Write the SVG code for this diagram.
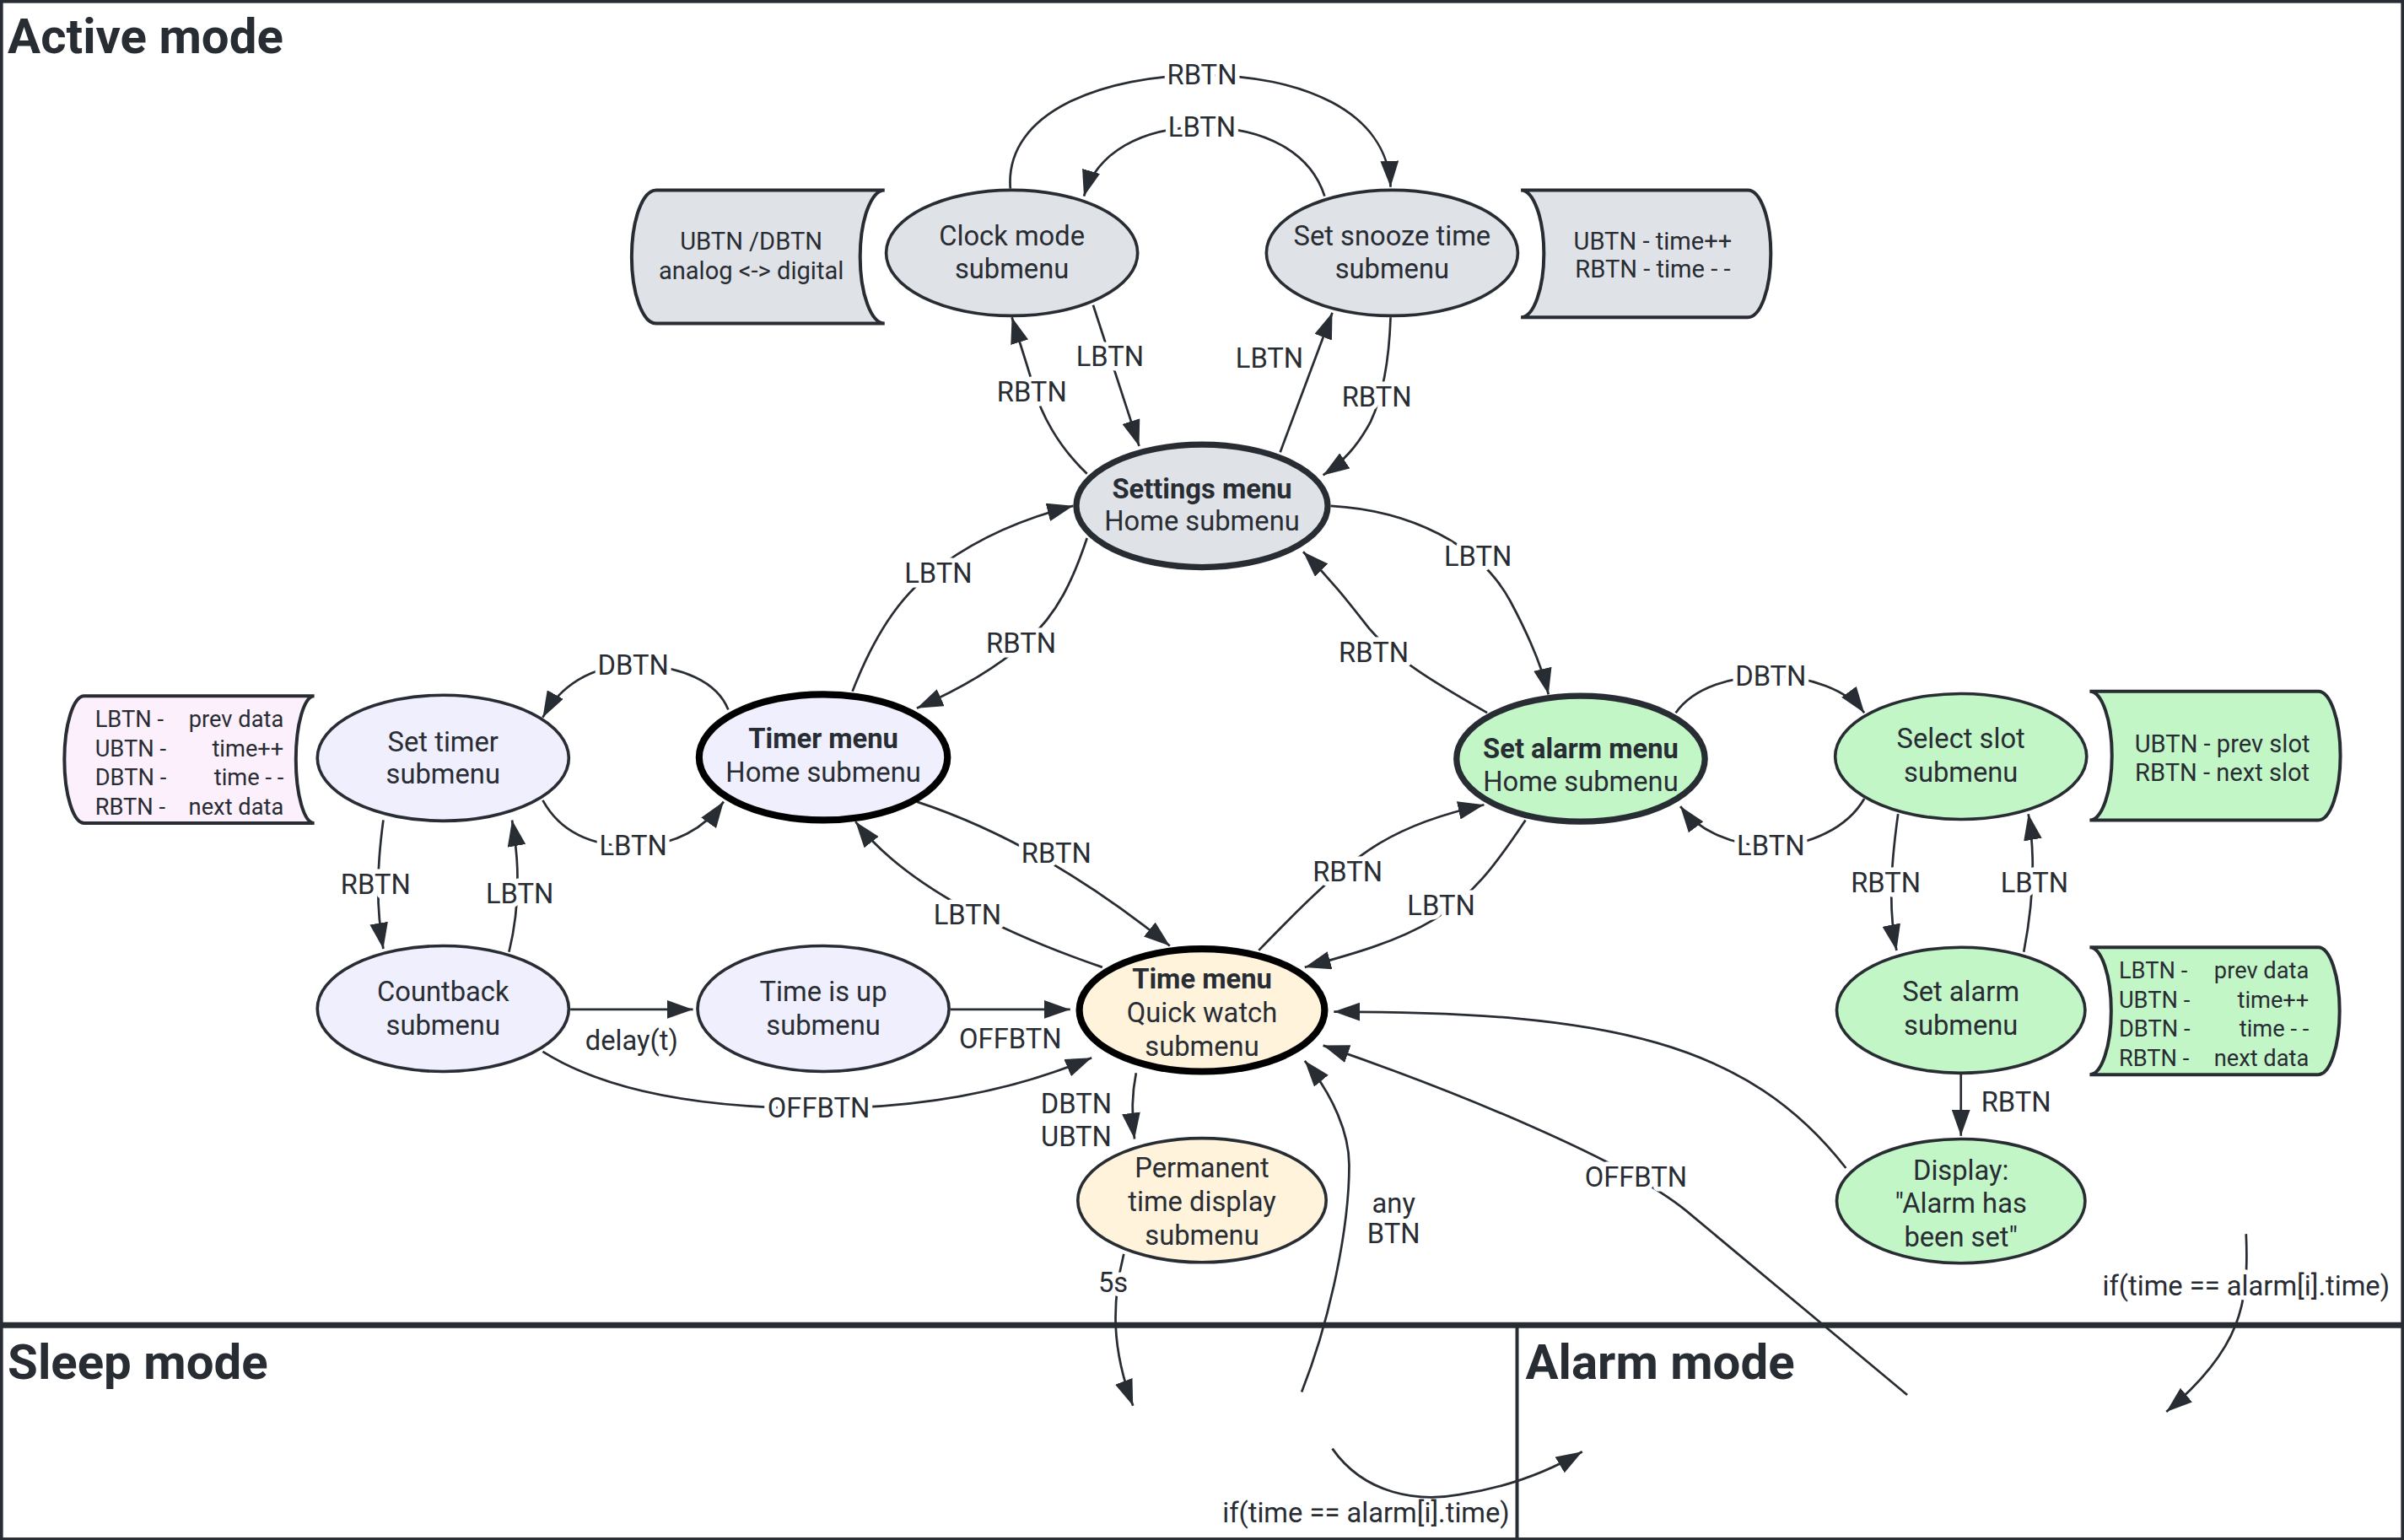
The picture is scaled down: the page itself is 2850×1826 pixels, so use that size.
<svg xmlns="http://www.w3.org/2000/svg" width="2850" height="1826" viewBox="0 0 2850 1826">
<defs>
<marker id="ah" markerUnits="userSpaceOnUse" viewBox="0 0 17 12" refX="17" refY="6" markerWidth="17" markerHeight="12" orient="auto">
<path d="M0,0 L17,6 L0,12 Z" fill="#282c33"/>
</marker>
<style>
.n{stroke:#282c33;stroke-width:2}
.thick{stroke:#282c33;stroke-width:4}
.blk{stroke:#000;stroke-width:4.5}
.grey{fill:#dfe2e7}
.lav{fill:#efeffd}
.cream{fill:#fff3dc}
.green{fill:#c3f6c7}
.pink{fill:#fcf0fc}
.note{stroke:#282c33;stroke-width:2.2}
text{font-family:Roboto,"Liberation Sans",sans-serif;fill:#282c33}
.t{font-size:18px;text-anchor:middle;dominant-baseline:central}
.b{font-weight:bold}
.nt{font-size:16px;text-anchor:middle;dominant-baseline:central}
.nd{font-size:15px;dominant-baseline:central}
.r{text-anchor:end}
.e{fill:none;stroke:#282c33;stroke-width:1.5;marker-end:url(#ah)}
.el{font-size:18px;text-anchor:middle;dominant-baseline:central;paint-order:stroke;stroke:#fff;stroke-width:6;stroke-linejoin:round}
.el2{font-size:18px;text-anchor:middle;dominant-baseline:central}
.title{font-size:32px;font-weight:bold}
.frame{fill:none;stroke:#282c33}
</style>
</defs>
<rect width="2850" height="1826" fill="#fff"/>
<g transform="scale(1.8176)">
<g id="frame">
<rect class="frame" x="1" y="1" width="1566" height="1003" stroke-width="2"/>
<line class="frame" x1="0" y1="864.5" x2="1568" y2="864.5" stroke-width="3.8"/>
<line class="frame" x1="989.5" y1="864.5" x2="989.5" y2="1005" stroke-width="2.2"/>
<text class="title" x="5" y="34.7">Active mode</text>
<text class="title" x="5" y="899.5">Sleep mode</text>
<text class="title" x="995" y="899.5">Alarm mode</text>
</g>

<g id="connectors">
<path class="e" d="M659,123 C655,72 722,49 784,49 C848,49 905,72 907,122"/>
<text class="el" x="784" y="49">RBTN</text>
<path class="e" d="M864,128 C855,100 826,83 784,83 C744,83 715,100 707,128"/>
<text class="el" x="784" y="83">LBTN</text>
<path class="e" d="M713,199 L743,291"/>
<text class="el" x="724" y="233">LBTN</text>
<path class="e" d="M709,309 C690,291 679,270 674,252 C669,235 664,220 660,207"/>
<text class="el" x="673" y="256">RBTN</text>
<path class="e" d="M835,295 L869,204"/>
<text class="el" x="828" y="234">LBTN</text>
<path class="e" d="M907,207 C906,236 902,258 894,275 C885,292 875,302 863,310"/>
<text class="el" x="898" y="259">RBTN</text>
<path class="e" d="M556,451 C572,410 590,385 615,368 C640,350 668,338 700,330"/>
<text class="el" x="612" y="374">LBTN</text>
<path class="e" d="M709,351 C700,378 690,400 670,418 C650,436 625,450 598,462"/>
<text class="el" x="666" y="420">RBTN</text>
<path class="e" d="M868,330 C920,333 965,355 985,392 C1000,420 1007,440 1010,453"/>
<text class="el" x="964" y="363">LBTN</text>
<path class="e" d="M970,465 C935,445 910,430 893,410 C882,396 870,380 850,360"/>
<text class="el" x="896" y="426">RBTN</text>
<path class="e" d="M475,463 C468,445 445,434 413,434 C385,434 365,448 354,468"/>
<text class="el" x="413" y="434">DBTN</text>
<path class="e" d="M354,522 C365,542 385,552 413,552 C440,552 460,540 472,523"/>
<text class="el" x="413" y="552">LBTN</text>
<path class="e" d="M250,535 C246,565 245,590 250,619"/>
<text class="el" x="245" y="577">RBTN</text>
<path class="e" d="M332,621 Q342,580 334,535"/>
<text class="el" x="339" y="583">LBTN</text>
<path class="e" d="M372,658.5 L452,658.5"/>
<text class="el" x="412" y="679">delay(t)</text>
<path class="e" d="M620,658.5 L698,658.5"/>
<text class="el" x="659" y="678">OFFBTN</text>
<path class="e" d="M354,686 C400,715 470,723 534,723 C600,723 660,712 712,690"/>
<text class="el" x="534" y="723">OFFBTN</text>
<path class="e" d="M598,523 Q680,550 763,617"/>
<text class="el" x="689" y="557">RBTN</text>
<path class="e" d="M719,631 Q600,590 558,536"/>
<text class="el" x="631" y="597">LBTN</text>
<path class="e" d="M821,620 C850,590 875,565 900,550 C920,538 945,530 968,525"/>
<text class="el" x="879" y="569">RBTN</text>
<path class="e" d="M995,535 C975,565 960,585 935,600 C910,615 880,623 851,631"/>
<text class="el" x="940" y="591">LBTN</text>
<path class="e" d="M1093,465 C1105,448 1130,441 1155,441 C1180,441 1205,450 1216,465"/>
<text class="el" x="1155" y="441">DBTN</text>
<path class="e" d="M1216,521 C1205,540 1180,552 1155,552 C1130,552 1108,542 1096,526"/>
<text class="el" x="1155" y="552">LBTN</text>
<path class="e" d="M1238,531 C1234,560 1231,590 1237,620"/>
<text class="el" x="1230" y="576">RBTN</text>
<path class="e" d="M1320,621 C1326,590 1328,560 1323,531"/>
<text class="el" x="1327" y="576">LBTN</text>
<path class="e" d="M1279,700 L1279,741"/>
<text class="el" x="1315" y="719">RBTN</text>
<path class="e" d="M1204,762 C1140,680 1050,660 870,660"/>
<path class="e" d="M1244,910 L1100,790 C1060,757 950,712 863,682"/>
<text class="el" x="1067" y="768">OFFBTN</text>
<path class="e" d="M741,700 C738,715 738,728 740,743"/>
<text class="el2" x="702" y="720">DBTN</text>
<text class="el2" x="702" y="741.5">UBTN</text>
<path class="e" d="M733,818 C725,850 725,880 739,917"/>
<text class="el" x="726" y="837">5s</text>
<path class="e" d="M849,908 C868,860 880,800 880,760 C880,740 870,715 851,692"/>
<text class="el2" x="909" y="785">any</text>
<text class="el2" x="909" y="805">BTN</text>
<path class="e" d="M869,945 C890,975 925,980 952,975 C985,970 1010,960 1032,947"/>
<text class="el2" x="891" y="987">if(time == alarm[i].time)</text>
<path class="e" d="M1465,805 C1467,850 1462,880 1413,921"/>
<text class="el" x="1465" y="839">if(time == alarm[i].time)</text>
</g>

<g id="clock-note">
<path class="grey note" d="M428,124 L577,124 A16,43.5 0 0 0 577,211 L428,211 A16,43.5 0 0 1 428,124 Z"/>
<text class="nt" x="490" y="157.5">UBTN /DBTN</text>
<text class="nt" x="490" y="176.8">analog &lt;-&gt; digital</text>
</g>
<g id="snooze-note">
<path class="grey note" d="M992,124 L1140,124 A15,41.5 0 0 1 1140,207 L992,207 A15,41.5 0 0 0 992,124 Z"/>
<text class="nt" x="1078" y="157.4">UBTN - time++</text>
<text class="nt" x="1078" y="175.6">RBTN - time - -</text>
</g>
<g id="timer-note">
<path class="pink note" d="M55,454 L205,454 A12,41.5 0 0 0 205,537 L55,537 A13,41.5 0 0 1 55,454 Z"/>
<text class="nd" x="62" y="469.5">LBTN -</text><text class="nd r" x="185" y="469.5">prev data</text>
<text class="nd" x="62" y="488.5">UBTN -</text><text class="nd r" x="185" y="488.5">time++</text>
<text class="nd" x="62" y="507.5">DBTN -</text><text class="nd r" x="185" y="507.5">time - -</text>
<text class="nd" x="62" y="526.5">RBTN -</text><text class="nd r" x="185" y="526.5">next data</text>
</g>
<g id="slot-note">
<path class="green note" d="M1363,451 L1512,451 A14.5,42 0 0 1 1512,535 L1363,535 A14.5,42 0 0 0 1363,451 Z"/>
<text class="nt" x="1449.5" y="485">UBTN - prev slot</text>
<text class="nt" x="1449.5" y="504">RBTN - next slot</text>
</g>
<g id="alarm-data-note">
<path class="green note" d="M1363,618 L1512,618 A14,41.5 0 0 1 1512,701 L1363,701 A14,41.5 0 0 0 1363,618 Z"/>
<text class="nd" x="1382" y="633.2">LBTN -</text><text class="nd r" x="1506" y="633.2">prev data</text>
<text class="nd" x="1382" y="652.3">UBTN -</text><text class="nd r" x="1506" y="652.3">time++</text>
<text class="nd" x="1382" y="671.4">DBTN -</text><text class="nd r" x="1506" y="671.4">time - -</text>
<text class="nd" x="1382" y="690.5">RBTN -</text><text class="nd r" x="1506" y="690.5">next data</text>
</g>

<g id="clock-mode">
<ellipse class="grey n" cx="660" cy="165" rx="82" ry="41"/>
<text class="t" x="660" y="154">Clock mode</text>
<text class="t" x="660" y="175.6">submenu</text>
</g>
<g id="snooze">
<ellipse class="grey n" cx="908" cy="165" rx="82" ry="41"/>
<text class="t" x="908" y="154">Set snooze time</text>
<text class="t" x="908" y="175.6">submenu</text>
</g>
<g id="settings">
<ellipse class="grey thick" cx="784" cy="330" rx="82" ry="40"/>
<text class="t b" x="784" y="319">Settings menu</text>
<text class="t" x="784" y="340">Home submenu</text>
</g>
<g id="timer-menu">
<ellipse class="lav blk" cx="537" cy="494" rx="81" ry="41"/>
<text class="t b" x="537" y="482">Timer menu</text>
<text class="t" x="537" y="504">Home submenu</text>
</g>
<g id="set-timer">
<ellipse class="lav n" cx="289" cy="494.5" rx="82" ry="41"/>
<text class="t" x="289" y="484">Set timer</text>
<text class="t" x="289" y="505">submenu</text>
</g>
<g id="countback">
<ellipse class="lav n" cx="289" cy="658" rx="82" ry="41"/>
<text class="t" x="289" y="647">Countback</text>
<text class="t" x="289" y="669">submenu</text>
</g>
<g id="time-up">
<ellipse class="lav n" cx="537" cy="658" rx="82" ry="41"/>
<text class="t" x="537" y="647">Time is up</text>
<text class="t" x="537" y="669">submenu</text>
</g>
<g id="time-menu">
<ellipse class="cream blk" cx="784" cy="659" rx="80" ry="40"/>
<text class="t b" x="784" y="639">Time menu</text>
<text class="t" x="784" y="661">Quick watch</text>
<text class="t" x="784" y="683">submenu</text>
</g>
<g id="permanent">
<ellipse class="cream n" cx="784" cy="783" rx="81" ry="40.5"/>
<text class="t" x="784" y="762">Permanent</text>
<text class="t" x="784" y="784">time display</text>
<text class="t" x="784" y="806">submenu</text>
</g>
<g id="set-alarm-menu">
<ellipse class="green thick" cx="1031" cy="495" rx="81" ry="41"/>
<text class="t b" x="1031" y="488.5">Set alarm menu</text>
<text class="t" x="1031" y="510">Home submenu</text>
</g>
<g id="select-slot">
<ellipse class="green n" cx="1279" cy="493.5" rx="82" ry="41"/>
<text class="t" x="1279" y="482">Select slot</text>
<text class="t" x="1279" y="504">submenu</text>
</g>
<g id="set-alarm-sub">
<ellipse class="green n" cx="1279" cy="659" rx="81" ry="41"/>
<text class="t" x="1279" y="647">Set alarm</text>
<text class="t" x="1279" y="669">submenu</text>
</g>
<g id="display">
<ellipse class="green n" cx="1279" cy="783.5" rx="81" ry="40.5"/>
<text class="t" x="1279" y="763.5">Display:</text>
<text class="t" x="1279" y="785">"Alarm has</text>
<text class="t" x="1279" y="807">been set"</text>
</g>
</g>
</svg>
